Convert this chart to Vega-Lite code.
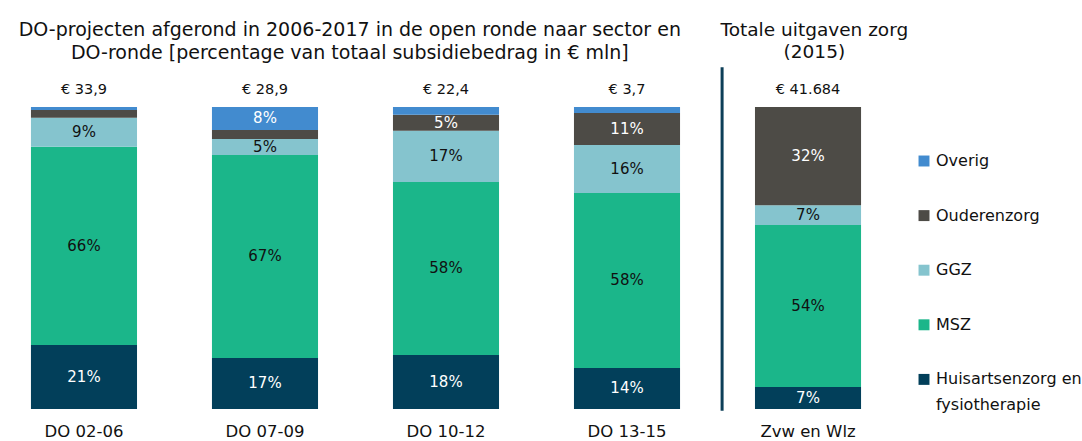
{
  "$schema": "https://vega.github.io/schema/vega-lite/v6.json",
  "autosize": {"type": "none"},
  "padding": {"left": 0, "top": 107, "right": 190, "bottom": 32},
  "width": 892,
  "height": 302,
  "background": "white",
  "config": {"view": {"stroke": null}, "font": "DejaVu Sans"},
  "datasets": {
    "shares": [
      {"round": "DO 02-06", "sector": "Huisartsenzorg en fysiotherapie", "k": 1, "value": 21.2, "label": "21%"},
      {"round": "DO 02-06", "sector": "MSZ", "k": 2, "value": 65.6, "label": "66%"},
      {"round": "DO 02-06", "sector": "GGZ", "k": 3, "value": 9.6, "label": "9%"},
      {"round": "DO 02-06", "sector": "Ouderenzorg", "k": 4, "value": 2.6, "label": ""},
      {"round": "DO 02-06", "sector": "Overig", "k": 5, "value": 1.0, "label": ""},
      {"round": "DO 07-09", "sector": "Huisartsenzorg en fysiotherapie", "k": 1, "value": 16.9, "label": "17%"},
      {"round": "DO 07-09", "sector": "MSZ", "k": 2, "value": 67.2, "label": "67%"},
      {"round": "DO 07-09", "sector": "GGZ", "k": 3, "value": 5.3, "label": "5%"},
      {"round": "DO 07-09", "sector": "Ouderenzorg", "k": 4, "value": 3.0, "label": ""},
      {"round": "DO 07-09", "sector": "Overig", "k": 5, "value": 7.6, "label": "8%"},
      {"round": "DO 10-12", "sector": "Huisartsenzorg en fysiotherapie", "k": 1, "value": 17.9, "label": "18%"},
      {"round": "DO 10-12", "sector": "MSZ", "k": 2, "value": 57.3, "label": "58%"},
      {"round": "DO 10-12", "sector": "GGZ", "k": 3, "value": 16.9, "label": "17%"},
      {"round": "DO 10-12", "sector": "Ouderenzorg", "k": 4, "value": 5.3, "label": "5%"},
      {"round": "DO 10-12", "sector": "Overig", "k": 5, "value": 2.6, "label": ""},
      {"round": "DO 13-15", "sector": "Huisartsenzorg en fysiotherapie", "k": 1, "value": 13.6, "label": "14%"},
      {"round": "DO 13-15", "sector": "MSZ", "k": 2, "value": 57.9, "label": "58%"},
      {"round": "DO 13-15", "sector": "GGZ", "k": 3, "value": 15.9, "label": "16%"},
      {"round": "DO 13-15", "sector": "Ouderenzorg", "k": 4, "value": 10.6, "label": "11%"},
      {"round": "DO 13-15", "sector": "Overig", "k": 5, "value": 2.0, "label": ""},
      {"round": "Zvw en Wlz", "sector": "Huisartsenzorg en fysiotherapie", "k": 1, "value": 7.3, "label": "7%"},
      {"round": "Zvw en Wlz", "sector": "MSZ", "k": 2, "value": 53.6, "label": "54%"},
      {"round": "Zvw en Wlz", "sector": "GGZ", "k": 3, "value": 6.6, "label": "7%"},
      {"round": "Zvw en Wlz", "sector": "Ouderenzorg", "k": 4, "value": 32.5, "label": "32%"},
      {"round": "Zvw en Wlz", "sector": "Overig", "k": 5, "value": 0.0, "label": ""}
    ],
    "totals": [
      {"round": "DO 02-06", "total": "€ 33,9"},
      {"round": "DO 07-09", "total": "€ 28,9"},
      {"round": "DO 10-12", "total": "€ 22,4"},
      {"round": "DO 13-15", "total": "€ 3,7"},
      {"round": "Zvw en Wlz", "total": "€ 41.684"}
    ]
  },
  "encoding": {
    "x": {
      "field": "round", "type": "nominal", "sort": null,
      "scale": {"domain": ["DO 02-06", "DO 07-09", "DO 10-12", "DO 13-15", "Zvw en Wlz"], "paddingInner": 0.414, "paddingOuter": 0.171},
      "axis": {"title": null, "domain": false, "ticks": false, "labelAngle": 0, "labelFontSize": 16.5, "labelColor": "#111111", "labelPadding": 14, "labelFont": "DejaVu Sans"}
    }
  },
  "layer": [
    {
      "data": {"name": "shares"},
      "mark": {"type": "bar"},
      "encoding": {
        "y": {"field": "value", "type": "quantitative", "stack": "zero", "scale": {"domain": [0, 100], "nice": false}, "axis": null},
        "color": {
          "field": "sector", "type": "nominal",
          "scale": {"domain": ["Overig", "Ouderenzorg", "GGZ", "MSZ", "Huisartsenzorg en fysiotherapie"], "range": ["#428BCF", "#4D4B46", "#85C4CE", "#1BB68A", "#023F5A"]},
          "legend": {
            "title": null, "orient": "none", "legendX": 916, "legendY": 46,
            "symbolType": "square", "symbolSize": 120, "symbolStrokeWidth": 0,
            "labelFontSize": 16, "labelColor": "#111111", "labelFont": "DejaVu Sans", "labelLimit": 300,
            "rowPadding": 38.6, "labelBaseline": "top",
            "labelExpr": "datum.label == 'Huisartsenzorg en fysiotherapie' ? ['Huisartsenzorg en', 'fysiotherapie'] : datum.label",
            "encode": {"labels": {"update": {"dy": {"value": -8}, "lineHeight": {"value": 26}}}}
          }
        },
        "order": {"field": "k", "type": "quantitative"}
      }
    },
    {
      "data": {"name": "shares"},
      "mark": {"type": "text", "fontSize": 15, "baseline": "middle", "font": "DejaVu Sans"},
      "encoding": {
        "y": {"field": "value", "type": "quantitative", "stack": "zero", "bandPosition": 0.5},
        "text": {"field": "label"},
        "color": {
          "field": "sector", "type": "nominal",
          "scale": {"domain": ["Overig", "Ouderenzorg", "GGZ", "MSZ", "Huisartsenzorg en fysiotherapie"], "range": ["#ffffff", "#ffffff", "#111111", "#111111", "#ffffff"]},
          "legend": null
        },
        "order": {"field": "k", "type": "quantitative"}
      }
    },
    {
      "data": {"name": "totals"},
      "mark": {"type": "text", "fontSize": 14.5, "baseline": "middle", "color": "#111111", "font": "DejaVu Sans"},
      "encoding": {
        "y": {"datum": 105.6, "type": "quantitative"},
        "text": {"field": "total"}
      }
    },
    {
      "data": {"values": [{"round": "DO 07-09", "text": "DO-projecten afgerond  in 2006-2017 in de open ronde naar sector en\nDO-ronde [percentage van totaal subsidiebedrag in € mln]"}]},
      "mark": {"type": "text", "fontSize": 19, "baseline": "middle", "color": "#111111", "lineBreak": "\n", "lineHeight": 23, "font": "DejaVu Sans"},
      "encoding": {
        "x": {"field": "round", "type": "nominal", "bandPosition": 1.3},
        "y": {"datum": 125.5, "type": "quantitative"},
        "text": {"field": "text"}
      }
    },
    {
      "data": {"values": [{"round": "Zvw en Wlz", "text": "Totale uitgaven zorg\n(2015)"}]},
      "mark": {"type": "text", "fontSize": 18.5, "baseline": "middle", "color": "#111111", "lineBreak": "\n", "lineHeight": 22, "font": "DejaVu Sans"},
      "encoding": {
        "x": {"field": "round", "type": "nominal", "bandPosition": 0.56},
        "y": {"datum": 125.5, "type": "quantitative"},
        "text": {"field": "text"}
      }
    },
    {
      "data": {"values": [{"round": "Zvw en Wlz"}]},
      "mark": {"type": "rule", "color": "#0D3F58", "strokeWidth": 3},
      "encoding": {
        "x": {"field": "round", "type": "nominal", "bandPosition": -0.31},
        "y": {"datum": 113.2, "type": "quantitative"},
        "y2": {"datum": -0.6}
      }
    }
  ],
  "resolve": {"scale": {"color": "independent"}}
}
